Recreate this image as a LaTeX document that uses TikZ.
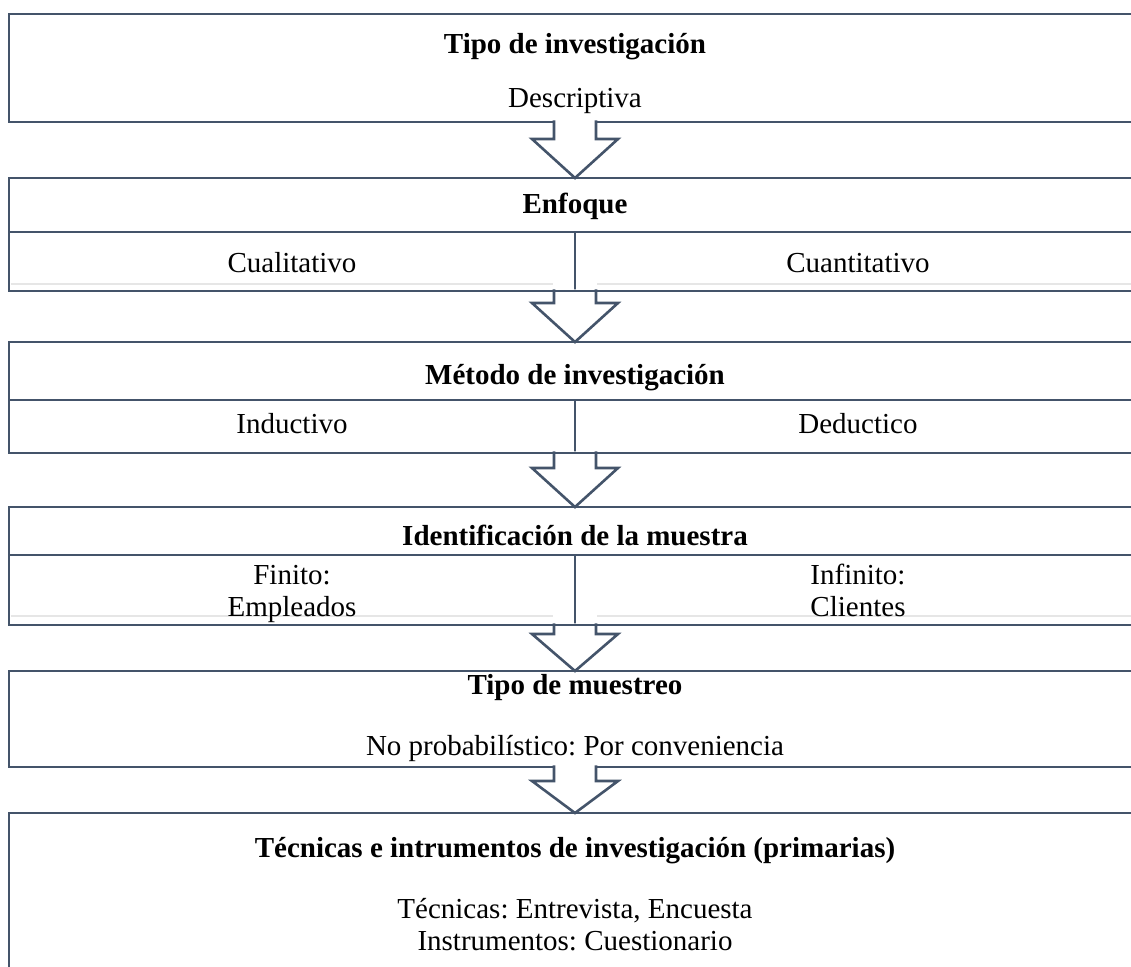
\documentclass[tikz,border=0pt]{standalone}
\usepackage{fontspec}
\setmainfont{Liberation Serif}
\usetikzlibrary{calc}
\frenchspacing
\definecolor{frame}{HTML}{44546A}
\definecolor{hairline}{HTML}{E6E6E6}
% hollow block arrow from the bottom of one panel to the top of the next
% #1 = upper panel, #2 = lower panel, #3 = stem length
\newcommand\flowarrow[3]{%
  \draw[flow] ($(#1.south)+(-21,-1.6)$) -- ($(#1.south)+(-21,#3)$)
    -- ($(#1.south)+(-43,#3)$) -- (#2.north)
    -- ($(#1.south)+(43,#3)$) -- ($(#1.south)+(21,#3)$)
    -- ($(#1.south)+(21,-1.6)$);}
\begin{document}
\begin{tikzpicture}[x=1pt,y=-1pt,
  panel/.style={draw=frame, line width=2.6pt, minimum width=1132pt,
    inner sep=0pt, outer sep=0pt},
  rule/.style={draw=frame, line width=2.6pt},
  hair/.style={draw=hairline, line width=2pt},
  flow/.style={draw=frame, fill=white, line width=2.6pt, line join=miter},
  txt/.style={font=\fontsize{29}{32}\selectfont, anchor=base,
    inner sep=0pt, align=center},
  head/.style={txt, font=\fontsize{29}{32}\selectfont\bfseries},
]
\useasboundingbox (0,0) rectangle (1131,966);
\clip (0,0) rectangle (1131,966);

% panels (right edge runs past the page)
\node[panel, minimum height=108pt] (b1) at (575,68) {};
\node[panel, minimum height=113pt] (b2) at (575,234.5) {};
\node[panel, minimum height=111pt] (b3) at (575,397.5) {};
\node[panel, minimum height=118pt] (b4) at (575,566) {};
\node[panel, minimum height=96pt]  (b5) at (575,719) {};
\node[panel, minimum height=177pt] (b6) at (575,901.5) {};

% header rules and column dividers
\draw[rule] (b2.west |- 0,232) -- (b2.east |- 0,232);
\draw[rule] (575,232) -- (b2.south);
\draw[rule] (b3.west |- 0,400) -- (b3.east |- 0,400);
\draw[rule] (575,400) -- (b3.south);
\draw[rule] (b4.west |- 0,555) -- (b4.east |- 0,555);
\draw[rule] (575,555) -- (b4.south);

% faint cell borders
\draw[hair] (10.5,284) -- (553,284) (597,284) -- (1141,284);
\draw[hair] (10.5,616) -- (553,616) (597,616) -- (1141,616);

% arrows between panels
\flowarrow{b1}{b2}{17}
\flowarrow{b2}{b3}{12}
\flowarrow{b3}{b4}{15}
\flowarrow{b4}{b5}{9}
\flowarrow{b5}{b6}{14}

% bottom borders of the split panels stay on top
\draw[rule] (b2.south west) -- (b2.south east);
\draw[rule] (b3.south west) -- (b3.south east);
\draw[rule] (b4.south west) -- (b4.south east);

% texts (two-line texts are placed by their last baseline)
\node[head] (h1) at (575,54) {Tipo de investigación};
\node[txt]  (v1) at (575,107) {Descriptiva};

\node[head] (h2) at (575,213) {Enfoque};
\node[txt]  (l2) at (292,272) {Cualitativo};
\node[txt]  (r2) at (858,272) {Cuantitativo};

\node[head] (h3) at (575,384) {Método de investigación};
\node[txt]  (l3) at (292,433) {Inductivo};
\node[txt]  (r3) at (858,433) {Deductico};

\node[head] (h4) at (575,545) {Identificación de la muestra};
\node[txt]  (l4) at (292,616) {Finito:\\Empleados};
\node[txt]  (r4) at (858,616) {Infinito:\\Clientes};

\node[head] (h5) at (575,694) {Tipo de muestreo};
\node[txt]  (v5) at (575,755) {No probabilístico: Por conveniencia};

\node[head] (h6) at (575,857) {Técnicas e intrumentos de investigación (primarias)};
\node[txt]  (v6) at (575,950) {Técnicas: Entrevista, Encuesta\\Instrumentos: Cuestionario};
\end{tikzpicture}
\end{document}
